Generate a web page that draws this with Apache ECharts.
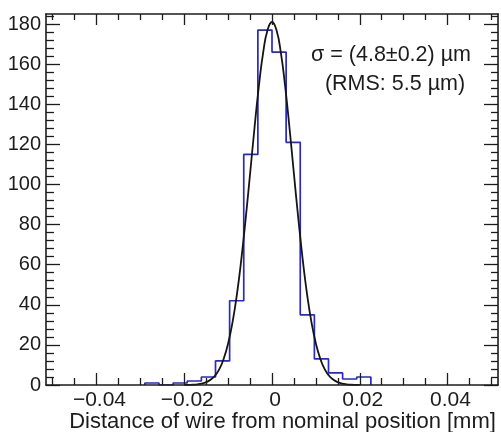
<!DOCTYPE html>
<html><head><meta charset="utf-8">
<script src="https://cdn.jsdelivr.net/npm/echarts@6/dist/echarts.min.js"></script>
<style>html,body{margin:0;padding:0;background:#fff}#c{width:501px;height:432px}</style>
</head><body><div id="c"></div>
<script>
// ---- data ----
const histMin = -0.0515;
const histMax = 0.0515;
const binCounts = [0,0,0,0,0,0,0,1,0,1,2,4,12,42,115,177,166,121,35,13,6,3,4,0,0,0,0,0,0,0,0,0];
const fitX = [-0.020,-0.019,-0.018,-0.017,-0.016,-0.015,-0.014,-0.013,-0.012,-0.011,-0.010,-0.009,-0.008,-0.007,-0.006,-0.005,-0.004,-0.003,-0.002,-0.001,0,
  0.001,0.002,0.003,0.004,0.005,0.006,0.007,0.008,0.009,0.010,0.011,0.012,0.013,0.014,0.015,0.016,0.017,0.018,0.019,0.020];
const fitY = [0.03,0.07,0.16,0.34,0.7,1.4,2.6,4.6,7.9,13.1,20.7,31.2,45.1,62.5,82.9,105.2,127.9,148.9,166.0,177.1,181,
  177.1,166.0,148.9,127.9,105.2,82.9,62.5,45.1,31.2,20.7,13.1,7.9,4.6,2.6,1.4,0.7,0.34,0.16,0.07,0.03];
const xMajorTicks = [-0.04,-0.02,0,0.02,0.04];
const xMinorTicks = [-0.05,-0.045,-0.035,-0.03,-0.025,-0.015,-0.01,-0.005,0.005,0.01,0.015,0.025,0.03,0.035,0.045,0.05];
const yMajorTicks = [0,20,40,60,80,100,120,140,160,180];
const yMinorTicks = [4,8,12,16,24,28,32,36,44,48,52,56,64,68,72,76,84,88,92,96,104,108,112,116,124,128,132,136,144,148,152,156,164,168,172,176,184];
const xRange = [-0.0515, 0.0515];
const yRange = [0, 185];
const annotationLines = ['\u03c3 = (4.8\u00b10.2) \u00b5m', '(RMS: 5.5 \u00b5m)'];
const xTitle = 'Distance of wire from nominal position [mm]';

// ---- build ----
const binWidth = (histMax - histMin) / binCounts.length;
let firstBin = binCounts.findIndex(c => c > 0);
let lastBin = binCounts.length - 1;
while (lastBin > 0 && binCounts[lastBin] === 0) lastBin--;
const histData = [[histMin + firstBin * binWidth, 0]];
for (let i = firstBin; i <= lastBin; i++) histData.push([histMin + i * binWidth, binCounts[i]]);
histData.push([histMin + (lastBin + 1) * binWidth, binCounts[lastBin]]);
histData.push([histMin + (lastBin + 1) * binWidth, 0]);
const fitData = fitX.map((x, i) => [x, fitY[i]]);

const FONT = "'Liberation Sans', Arial, Helvetica, sans-serif";
const INK = '#1c1c1c';
const lineSt = {color: INK, width: 1.6};

function xAx(pos, major, showLine, len, showLabel) {
  return {
    type: 'value', position: pos, min: xRange[0], max: xRange[1],
    z: 10,
    axisLine: {show: showLine, onZero: false, lineStyle: lineSt},
    axisTick: {show: true, inside: true, length: len, customValues: major, lineStyle: {color: INK, width: 1.3}},
    axisLabel: showLabel ? {
      show: true, customValues: xMajorTicks, fontSize: 21, fontFamily: FONT, color: INK, margin: 5,
      padding: [0, 0, 0, 6],
      formatter: v => v === 0 ? '0' : (v < 0 ? '\u2212' + Math.abs(v).toFixed(2) : v.toFixed(2))
    } : {show: false},
    splitLine: {show: false}
  };
}
function yAx(pos, major, showLine, len, showLabel) {
  return {
    type: 'value', position: pos, min: yRange[0], max: yRange[1],
    z: 10,
    axisLine: {show: showLine, onZero: false, lineStyle: lineSt},
    axisTick: {show: true, inside: true, length: len, customValues: major, lineStyle: {color: INK, width: 1.3}},
    axisLabel: showLabel ? {
      show: true, customValues: yMajorTicks, fontSize: 20, fontFamily: FONT, color: INK, margin: 5
    } : {show: false},
    splitLine: {show: false}
  };
}

const xBottom = xAx('bottom', xMajorTicks, true, 12, true);
xBottom.name = xTitle;
xBottom.nameLocation = 'middle';
xBottom.nameGap = 26;
xBottom.nameMoveOverlap = false;
xBottom.nameTextStyle = {fontSize: 22, fontFamily: FONT, color: INK, padding: [0, 0, 0, 21], verticalAlign: 'top'};

const chart = echarts.init(document.getElementById('c'), null, {renderer: 'canvas'});
chart.setOption({
  animation: false,
  backgroundColor: '#fff',
  grid: {left: 46, right: 3, top: 14, bottom: 47, containLabel: false, outerBoundsMode: 'none'},
  xAxis: [
    xBottom,
    xAx('bottom', xMinorTicks, false, 7, false),
    xAx('top', xMajorTicks, true, 11, false),
    xAx('top', xMinorTicks, false, 6, false)
  ],
  yAxis: [
    yAx('left', yMajorTicks, true, 14, true),
    yAx('left', yMinorTicks, false, 8, false),
    yAx('right', yMajorTicks, true, 14, false),
    yAx('right', yMinorTicks, false, 7, false)
  ],
  series: [
    {type: 'line', xAxisIndex: 0, yAxisIndex: 0, step: 'end', data: histData, symbol: 'none',
     lineStyle: {color: '#2a2ac0', width: 1.7}, z: 3},
    {type: 'line', xAxisIndex: 0, yAxisIndex: 0, data: fitData, smooth: true, symbol: 'none',
     lineStyle: {color: '#151515', width: 1.8}, z: 4}
  ],
  graphic: [
    {type: 'text', x: 391, y: 55, style: {text: annotationLines[0], fontSize: 21.5, fontFamily: FONT, fill: INK, textAlign: 'center', textVerticalAlign: 'middle'}},
    {type: 'text', x: 395, y: 84, style: {text: annotationLines[1], fontSize: 21.5, fontFamily: FONT, fill: INK, textAlign: 'center', textVerticalAlign: 'middle'}}
  ]
});
</script></body></html>
